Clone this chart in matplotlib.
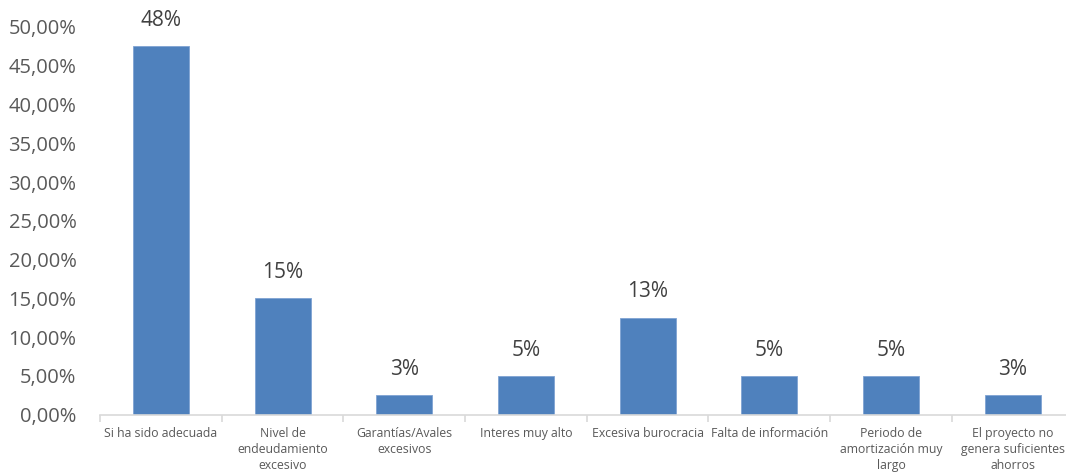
import numpy as np
import matplotlib.pyplot as plt
from matplotlib.ticker import FuncFormatter

# Data
categories = ["Si ha sido adecuada", "Nivel de\nendeudamiento\nexcesivo", "Garantías/Avales\nexcesivos",
              "Interes muy alto", "Excesiva burocracia", "Falta de información",
              "Periodo de\namortización muy\nlargo", "El proyecto no\ngenera suficientes\nahorros"]
values = [0.475, 0.15, 0.025, 0.05, 0.125, 0.05, 0.05, 0.025]
value_labels = ["48%", "15%", "3%", "5%", "13%", "5%", "5%", "3%"]

plt.rcParams['font.family'] = ['Open Sans', 'DejaVu Sans']

# 1. Figure
fig = plt.figure(figsize = (10.66, 4.73), dpi = 100)
ax = fig.add_axes([0.0938, 0.1235, 0.9133, 0.8195])

# 2. Bars
x = np.arange(len(categories))
bars = ax.bar(x, values, 0.46, color = "#4F81BD", edgecolor = "#7FA3D3", linewidth = 0.6)

for i, b in enumerate(bars):
    ax.annotate(value_labels[i], (b.get_x() + b.get_width() / 2, b.get_height()),
                xytext = (0, 11), textcoords = "offset points", ha = "center", va = "bottom",
                fontsize = 15, color = "#404040")

# 3. Axes
ax.set_xlim(-0.5, len(categories) - 0.5)
ax.set_ylim(0, 0.5)
ax.set_yticks(np.arange(0, 0.51, 0.05))
ax.yaxis.set_major_formatter(FuncFormatter(lambda v, p: ("%.2f%%" % (v * 100)).replace(".", ",")))
ax.tick_params(axis = 'y', length = 0, labelsize = 14.5, labelcolor = "#595959", pad = 17)

ax.set_xticks(x)
ax.set_xticklabels(categories, fontsize = 8.8, color = "#595959", linespacing = 1.3)
ax.set_xticks(np.arange(-0.5, len(categories)), minor = True)
ax.tick_params(axis = 'x', which = 'major', length = 0, pad = 9)
ax.tick_params(axis = 'x', which = 'minor', length = 5, color = "#D9D9D9", width = 1.2)

for s in ["top", "right", "left"]:
    ax.spines[s].set_visible(False)
ax.spines["bottom"].set_color("#D9D9D9")
ax.spines["bottom"].set_linewidth(1.2)

plt.savefig("out.png", dpi = 100)
